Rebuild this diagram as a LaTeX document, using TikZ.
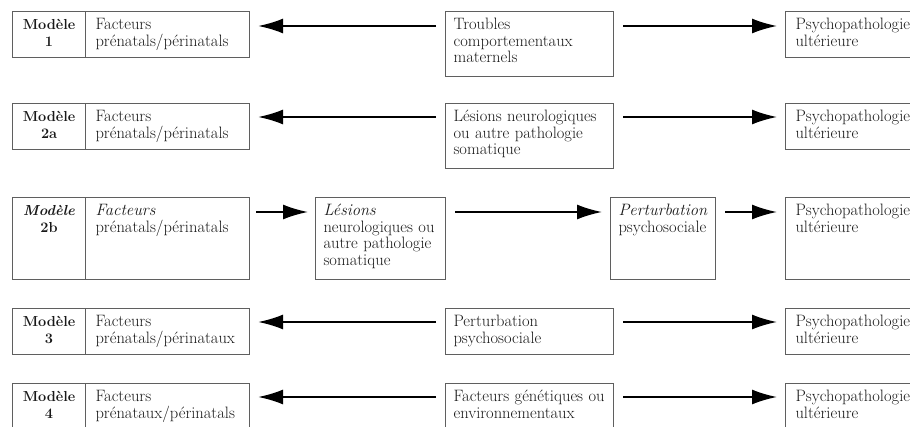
\documentclass[tikz,border=0pt]{standalone}
\usetikzlibrary{arrows.meta}
\definecolor{boxline}{RGB}{95,95,95}

\begin{document}
\begin{tikzpicture}[x=1pt,y=-1pt,
    font=\fontsize{16.5}{16.7}\selectfont,
    cadre/.style={draw=boxline,line width=1.1pt,anchor=north west,align=left,
        inner xsep=10pt,inner ysep=4pt,text height=14pt,text=black!90},
    modele/.style={cadre,align=center,text width=53pt,
        font=\fontsize{14.5}{16.7}\selectfont\bfseries},
    facteurs/.style={cadre,text width=144pt},
    milieu/.style={cadre,inner xsep=8pt,text width=152pt},
    psycho/.style={cadre,text width=135pt},
    h46/.style={text depth=24pt},
    h65/.style={text depth=43pt},
    h82/.style={text depth=60pt},
    fleche/.style={line width=1.8pt,-{Latex[length=25pt,width=15pt]},
        shorten <=9pt,shorten >=8pt}]
\useasboundingbox (0,0) rectangle (910,427);
\clip (0,0) rectangle (910,427);

% modele 1
\node [modele,h46] (m1) at (12,11) {Modèle\\1};
\node [facteurs,h46] (f1) at (85,11) {Facteurs\\prénatals/périnatals};
\node [milieu,h65] (t1) at (445,11) {Troubles\\comportementaux\\maternels};
\node [psycho,h46] (p1) at (785,11) {Psychopathologie\\ultérieure};
\draw [fleche] ([yshift=-15pt]t1.north west) -- ([yshift=-15pt]f1.north east);
\draw [fleche] ([yshift=-15pt]t1.north east) -- ([yshift=-15pt]p1.north west);

% modele 2a
\node [modele,h46] (m2a) at (12,103) {Modèle\\2a};
\node [facteurs,h46] (f2a) at (85,103) {Facteurs\\prénatals/périnatals};
\node [milieu,h65] (l2a) at (445,103) {\mbox{Lésions neurologiques}\\ou autre pathologie\\somatique};
\node [psycho,h46] (p2a) at (785,103) {Psychopathologie\\ultérieure};
\draw [fleche] ([yshift=-14pt]l2a.north west) -- ([yshift=-14pt]f2a.north east);
\draw [fleche] ([yshift=-14pt]l2a.north east) -- ([yshift=-14pt]p2a.north west);

% modele 2b
\node [modele,h82] (m2b) at (12,197) {\textit{Modèle}\\2b};
\node [facteurs,h82] (f2b) at (85,197) {\textit{Facteurs}\\prénatals/périnatals};
\node [cadre,h82,inner xsep=8pt,text width=114pt] (l2b) at (315,197)
    {\textit{Lésions}\\\mbox{neurologiques ou}\\\mbox{autre pathologie}\\somatique};
\node [cadre,h82,inner xsep=8pt,text width=89pt] (s2b) at (610,197)
    {\textit{Perturbation}\\\mbox{psychosociale}};
\node [psycho,h82] (p2b) at (785,197) {Psychopathologie\\ultérieure};
\draw [fleche,shorten <=6pt,shorten >=7pt] ([yshift=-15pt]f2b.north east) -- ([yshift=-15pt]l2b.north west);
\draw [fleche] ([yshift=-15pt]l2b.north east) -- ([yshift=-15pt]s2b.north west);
\draw [fleche] ([yshift=-15pt]s2b.north east) -- ([yshift=-15pt]p2b.north west);

% modele 3
\node [modele,h46] (m3) at (12,308) {Modèle\\3};
\node [facteurs,h46] (f3) at (85,308) {Facteurs\\prénatals/périnataux};
\node [milieu,h46] (s3) at (445,308) {Perturbation\\psychosociale};
\node [psycho,h46] (p3) at (785,308) {Psychopathologie\\ultérieure};
\draw [fleche] ([yshift=-14pt]s3.north west) -- ([yshift=-14pt]f3.north east);
\draw [fleche] ([yshift=-14pt]s3.north east) -- ([yshift=-14pt]p3.north west);

% modele 4
\node [modele,h46] (m4) at (12,383) {Modèle\\4};
\node [facteurs,h46] (f4) at (85,383) {Facteurs\\prénataux/périnatals};
\node [milieu,h46] (g4) at (445,383) {\mbox{Facteurs génétiques ou}\\environnementaux};
\node [psycho,h46] (p4) at (785,383) {Psychopathologie\\ultérieure};
\draw [fleche] ([yshift=-14pt]g4.north west) -- ([yshift=-14pt]f4.north east);
\draw [fleche] ([yshift=-14pt]g4.north east) -- ([yshift=-14pt]p4.north west);
\end{tikzpicture}
\end{document}
